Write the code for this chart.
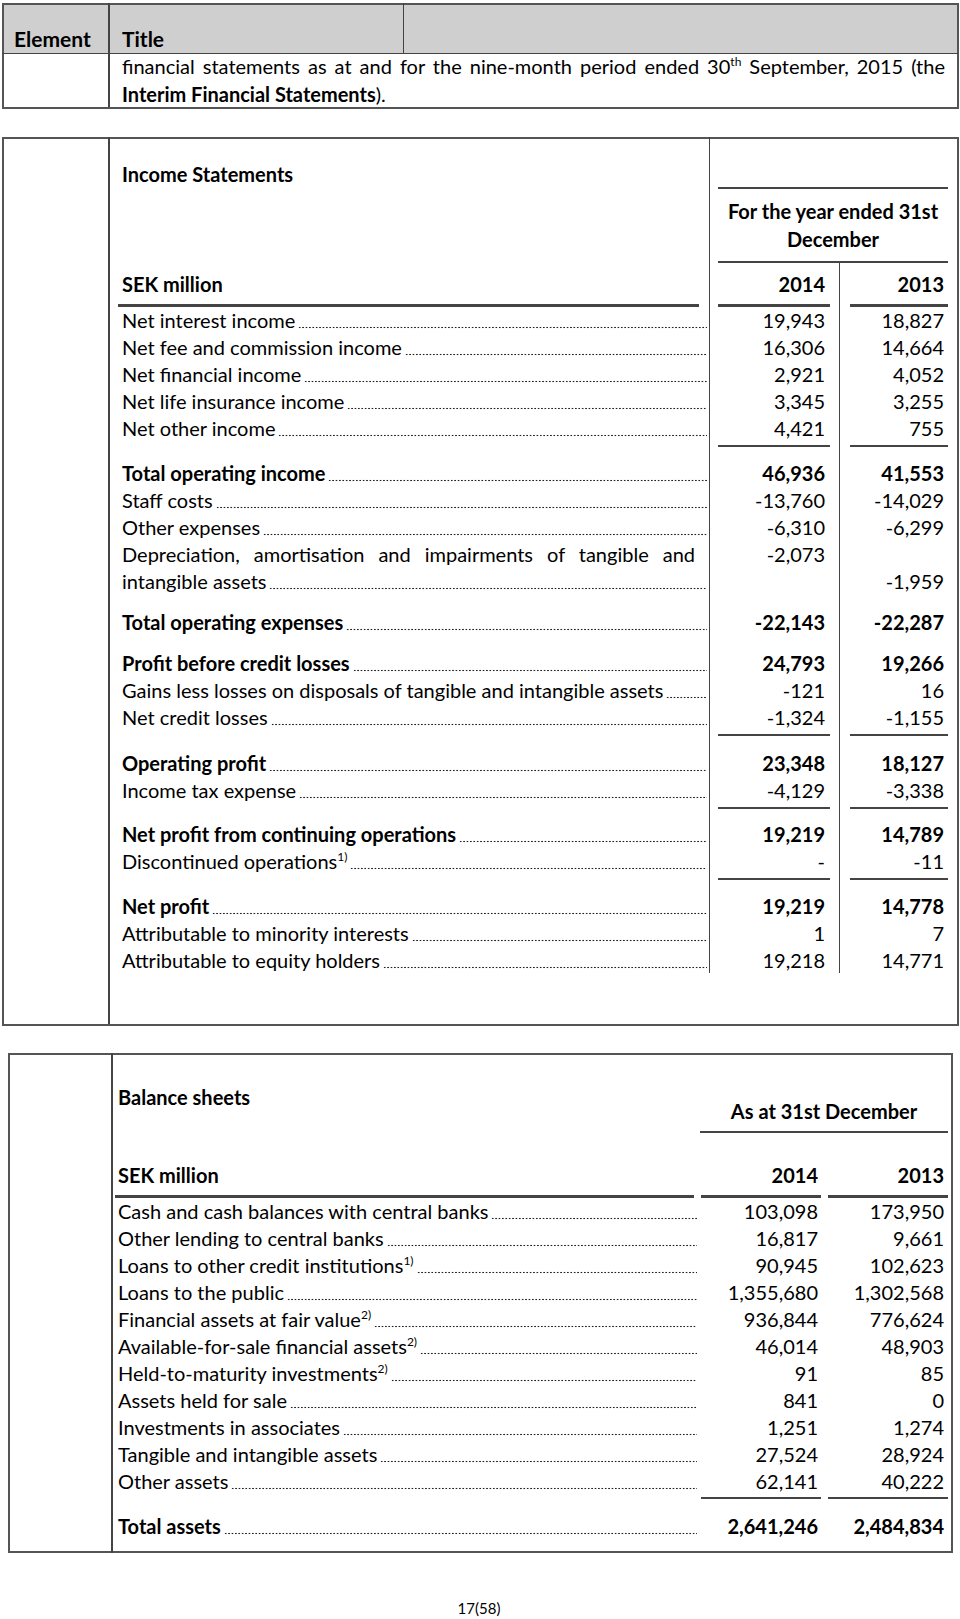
<!DOCTYPE html>
<html lang="en">
<head>
<meta charset="UTF-8">
<title>Income Statements / Balance sheets</title>
<script src="https://cdn.jsdelivr.net/npm/chart.js"></script>
<style>
  html, body { margin: 0; padding: 0; background: #fff; }
  #page { position: relative; width: 960px; height: 1619px; overflow: hidden;
          font-family: Lato, "Liberation Sans", sans-serif; font-size: 20px; color: #000; }
  .a { position: absolute; white-space: nowrap; }
  .hl { position: absolute; background: #444; height: 2px; }
  .vl { position: absolute; background: #444; width: 1px; }
  .row { position: absolute; display: flex; height: 27px; line-height: 27px; }
  .row .lbl { white-space: nowrap; }
  .row .dots { flex: 1; margin-left: 3px; height: 27px;
               background-image: radial-gradient(circle, #222 0.75px, transparent 1.1px);
               background-size: 3.4px 3px; background-repeat: repeat-x; background-position: 0 19px; }
  .num { position: absolute; width: 100px; text-align: right; height: 27px; line-height: 27px; white-space: nowrap; }
  .b { font-weight: bold; }
  sup { font-size: 12px; line-height: 0; vertical-align: 8px; }
  .just { position: absolute; text-align: justify; text-align-last: justify; height: 27px; line-height: 27px; }
</style>
</head>
<body>
<div id="page"></div>
<script>
// ---- data ----
const years = ['2014', '2013']

const incomeItems = [
  'Net interest income', 'Net fee and commission income', 'Net financial income',
  'Net life insurance income', 'Net other income', 'Total operating income',
  'Staff costs', 'Other expenses',
  'Depreciation, amortisation and impairments of tangible and intangible assets',
  'Total operating expenses', 'Profit before credit losses',
  'Gains less losses on disposals of tangible and intangible assets', 'Net credit losses',
  'Operating profit', 'Income tax expense', 'Net profit from continuing operations',
  'Discontinued operations', 'Net profit', 'Attributable to minority interests',
  'Attributable to equity holders'
]
const income2014 = [19943, 16306, 2921, 3345, 4421, 46936, -13760, -6310, -2073, -22143,
  24793, -121, -1324, 23348, -4129, 19219, null, 19219, 1, 19218]
const income2013 = [18827, 14664, 4052, 3255, 755, 41553, -14029, -6299, -1959, -22287,
  19266, 16, -1155, 18127, -3338, 14789, -11, 14778, 7, 14771]
const incomeNotes = {16: '1)'}

const balanceItems = [
  'Cash and cash balances with central banks', 'Other lending to central banks',
  'Loans to other credit institutions', 'Loans to the public', 'Financial assets at fair value',
  'Available-for-sale financial assets', 'Held-to-maturity investments', 'Assets held for sale',
  'Investments in associates', 'Tangible and intangible assets', 'Other assets', 'Total assets'
]
const balance2014 = [103098, 16817, 90945, 1355680, 936844, 46014, 91, 841, 1251, 27524, 62141, 2641246]
const balance2013 = [173950, 9661, 102623, 1302568, 776624, 48903, 85, 0, 1274, 28924, 40222, 2484834]
const balanceNotes = {2: '1)', 4: '2)', 5: '2)', 6: '2)'}

// ---- layout helpers ----
const page = document.getElementById('page')
const fmt = v => v === null ? '-' : v.toLocaleString('en-US')

function add(cls, css, html) {
  const d = document.createElement('div')
  d.className = cls
  d.style.cssText = css
  if (html !== undefined) d.innerHTML = html
  page.appendChild(d)
  return d
}
const hline = (x1, x2, y, h) => add('hl', `left:${x1}px;width:${x2 - x1}px;top:${y - 1}px;` + (h ? `height:${h}px;` : ''))
const vline = (x, y1, y2, w) => add('vl', `left:${x}px;top:${y1}px;height:${y2 - y1}px;` + (w ? `width:${w}px;` : ''))
const text = (x, cy, html, extra) => add('a', `left:${x}px;top:${cy - 13}px;line-height:27px;` + (extra || ''), html)
const centered = (cx, cy, html, extra) => add('a', `left:${cx - 112}px;width:224px;text-align:center;top:${cy - 13}px;line-height:27px;` + (extra || ''), html)
const num = (right, cy, v, bold) => add('num' + (bold ? ' b' : ''), `left:${right - 100}px;top:${cy - 13}px;`, fmt(v))

function leaderRow(x, xEnd, cy, label, bold) {
  const r = add('row' + (bold ? ' b' : ''), `left:${x}px;width:${xEnd - x}px;top:${cy - 13}px;`)
  r.innerHTML = `<span class="lbl">${label}</span><span class="dots"></span>`
}

// ---- top "Element / Title" box ----
add('a', 'left:2px;top:3px;width:956px;height:51px;background:#cfcfcf;')
add('a', 'left:2px;top:3px;width:953px;height:102px;border:2px solid #555;')
hline(2, 958, 54, 1)
vline(108, 3, 107, 2)
vline(403, 3, 54, 1)
text(14, 38, 'Element', 'font-weight:bold;font-size:21px;')
text(122, 38, 'Title', 'font-weight:bold;font-size:21px;')
add('just', 'left:122px;width:823px;top:53px;',
  'financial statements as at and for the nine-month period ended 30<sup>th</sup> September, 2015 (the')
text(122, 94, '<b>Interim Financial Statements</b>).')

// ---- income statement box ----
add('a', 'left:2px;top:137px;width:953px;height:885px;border:2px solid #555;')
vline(108, 137, 1024, 2)
vline(709, 137, 973)
vline(839, 262, 973)
text(122, 174, 'Income Statements', 'font-weight:bold;')
hline(718, 948, 188)
centered(833, 211, 'For the year ended 31st', 'font-weight:bold;')
centered(833, 239, 'December', 'font-weight:bold;')
hline(718, 948, 262)
text(122, 284, 'SEK million', 'font-weight:bold;')
num(825, 284, null, true).textContent = years[0]
num(944, 284, null, true).textContent = years[1]
hline(118, 699, 305, 3)
hline(718, 830, 305, 3)
hline(850, 948, 305, 3)

const incomeBold = [5, 9, 10, 13, 15, 17]
const incomeGap = {5: 18, 9: 14, 10: 14, 13: 19, 15: 17, 17: 18}
const incomeRuleAfter = [4, 12, 14, 16]
const incomeWrap = {8: 7}   // row 8 breaks after 7 words
let cy = 320
incomeItems.forEach((label, i) => {
  if (i > 0) cy += 27 + (incomeGap[i] || 0)
  const bold = incomeBold.includes(i)
  const note = incomeNotes[i] ? `<sup>${incomeNotes[i]}</sup>` : ''
  if (incomeWrap[i]) {
    const words = label.split(' ')
    add('just', `left:122px;width:573px;top:${cy - 13}px;`, words.slice(0, incomeWrap[i]).join(' '))
    num(825, cy, income2014[i], bold)
    cy += 27
    leaderRow(122, 707, cy, words.slice(incomeWrap[i]).join(' '), bold)
    num(944, cy, income2013[i], bold)
  } else {
    leaderRow(122, 707, cy, label + note, bold)
    num(825, cy, income2014[i], bold)
    num(944, cy, income2013[i], bold)
  }
  if (incomeRuleAfter.includes(i)) {
    hline(718, 830, cy + 18)
    hline(850, 948, cy + 18)
  }
})

// ---- balance sheet box ----
add('a', 'left:8px;top:1053px;width:941px;height:496px;border:2px solid #555;')
vline(111, 1053, 1553, 2)
text(118, 1097, 'Balance sheets', 'font-weight:bold;')
centered(824, 1111, 'As at 31st December', 'font-weight:bold;')
hline(700, 948, 1132)
text(118, 1175, 'SEK million', 'font-weight:bold;')
num(818, 1175, null, true).textContent = years[0]
num(944, 1175, null, true).textContent = years[1]
hline(115, 694, 1196, 3)
hline(701, 821, 1196, 3)
hline(828, 948, 1196, 3)

cy = 1211
balanceItems.forEach((label, i) => {
  const last = i === balanceItems.length - 1
  if (i > 0) cy += 27 + (last ? 18 : 0)
  const note = balanceNotes[i] ? `<sup>${balanceNotes[i]}</sup>` : ''
  leaderRow(118, 697, cy, label + note, last)
  num(818, cy, balance2014[i], last)
  num(944, cy, balance2013[i], last)
  if (i === balanceItems.length - 2) {
    hline(701, 821, cy + 17)
    hline(828, 948, cy + 17)
  }
})

centered(479, 1608, '17(58)', 'font-size:15px;')
</script>
</body>
</html>
